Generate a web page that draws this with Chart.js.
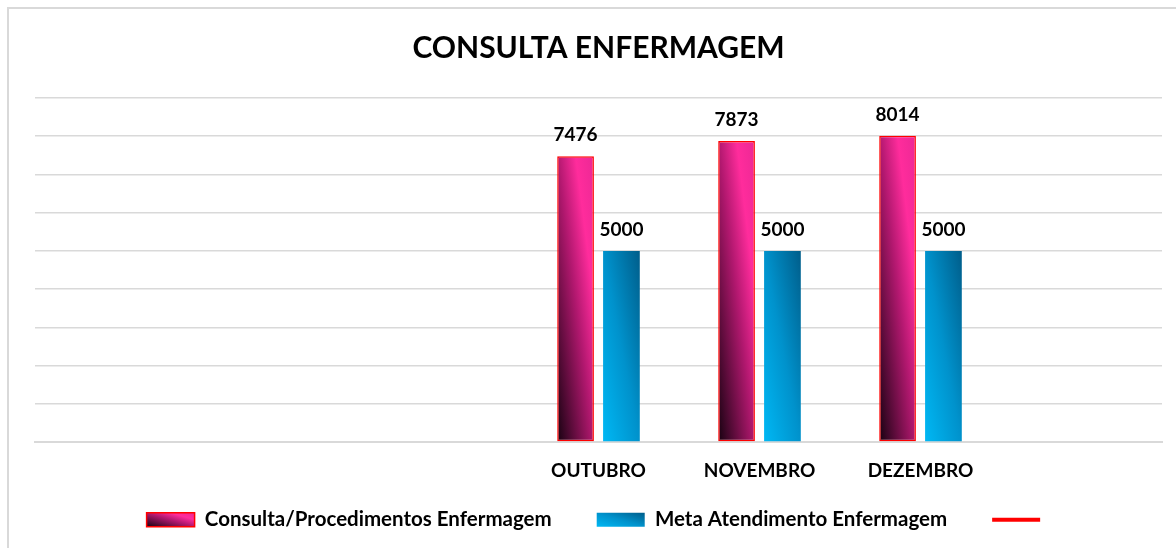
<!DOCTYPE html>
<html lang="pt">
<head>
<meta charset="UTF-8">
<title>Consulta Enfermagem</title>
<script src="https://cdn.jsdelivr.net/npm/chart.js"></script>
<style>
  html, body { margin: 0; padding: 0; background: #fff; overflow: hidden; }
  #frame { position: absolute; left: 7px; top: 7px; width: 1300px; height: 700px;
           border-left: 2px solid #d9d9d9; border-top: 2px solid #d9d9d9; }
  #box { position: absolute; left: 0; top: 0; width: 1176px; height: 548px; }
</style>
</head>
<body>
<div id="frame"></div>
<div id="box"><canvas id="myChart"></canvas></div>
<script>
// dados do grafico
const categories = ['', '', '', 'OUTUBRO', 'NOVEMBRO', 'DEZEMBRO', ''];
const consultas  = [null, null, null, 7476, 7873, 8014, null];
const meta       = [null, null, null, 5000, 5000, 5000, null];
const linhaMeta  = [null, null, null, null, null, null, null];
const yTicks     = [0, 1000, 2000, 3000, 4000, 5000, 6000, 7000, 8000, 9000];

const CAT_PCT = 0.57;
const BAR_PCT = 0.8;
const FONT = 'Lato';

const pinkStops = [[0, '#160210'], [0.5, '#b2186f'], [0.75, '#ff2c9c'], [1, '#ec2895']];
const blueStops = [[0, '#00b8f4'], [0.5, '#0092cc'], [1, '#005d8a']];

// gradiente diagonal (canto inf. esq. -> canto sup. dir.)
function diagGrad(ctx, left, top, right, bottom, stops) {
  const w = right - left, h = bottom - top;
  const k = 2 * w * h / (w * w + h * h);
  const g = ctx.createLinearGradient(left, bottom, left + h * k, bottom - w * k);
  stops.forEach(s => g.addColorStop(s[0], s[1]));
  return g;
}

function barFill(stops, side) {
  return (c) => {
    const chart = c.chart, v = c.raw;
    const xs = chart.scales.x, ys = chart.scales.y;
    if (c.type !== 'data' || v == null || !xs || !ys) return stops[1][1];
    const slot = (xs.right - xs.left) / categories.length * CAT_PCT / 2;
    const cx = xs.getPixelForValue(c.dataIndex) + side * slot / 2;
    const half = slot * BAR_PCT / 2;
    const top = ys.getPixelForValue(v), bottom = ys.getPixelForValue(0);
    if (![cx, half, top, bottom].every(isFinite) || bottom - top <= 0) return stops[1][1];
    return diagGrad(chart.ctx, cx - half, top, cx + half, bottom, stops);
  };
}

// valores em cima das barras
const valueLabels = {
  id: 'valueLabels',
  afterDatasetsDraw(chart) {
    const ctx = chart.ctx;
    ctx.save();
    ctx.font = 'bold 19px ' + FONT;
    ctx.fillStyle = '#000';
    ctx.textAlign = 'center';
    ctx.textBaseline = 'alphabetic';
    chart.data.datasets.forEach((ds, i) => {
      if (ds.type === 'line') return;
      chart.getDatasetMeta(i).data.forEach((bar, j) => {
        if (ds.data[j] == null) return;
        ctx.fillText(ds.data[j], bar.x, bar.y - 15);
      });
    });
    ctx.restore();
  }
};

// o eixo x foi encolhido pra legenda subir; devolve a area dos rotulos
const xLabelRoom = {
  id: 'xLabelRoom',
  afterLayout(chart) {
    const xs = chart.scales.x;
    xs.bottom = xs.top + 45;
  }
};

// gradiente nas caixinhas da legenda
const legendFill = {
  id: 'legendFill',
  beforeDraw(chart) {
    const lg = chart.legend;
    if (!lg || !lg.legendItems) return;
    const bw = lg.options.labels.pointStyleWidth, bh = lg.options.labels.boxHeight;
    lg.legendItems.forEach((item, i) => {
      const hb = lg.legendHitBoxes[i];
      if (!hb || item.datasetIndex > 1) return;
      const yc = hb.top + hb.height / 2;
      const stops = item.datasetIndex === 0 ? pinkStops : blueStops;
      item.fillStyle = diagGrad(chart.ctx, hb.left, yc - bh / 2, hb.left + bw, yc + bh / 2, stops);
    });
  }
};

const ctx = document.querySelector('#myChart');
const enfChart = new Chart(ctx, {
  type: 'bar',
  data: {
    labels: categories,
    datasets: [
      {
        label: 'Consulta/Procedimentos Enfermagem',
        data: consultas,
        backgroundColor: barFill(pinkStops, -1),
        borderColor: '#ff0000',
        borderWidth: 1.5,
        borderSkipped: false,
        pointStyle: 'rect',
        categoryPercentage: CAT_PCT,
        barPercentage: BAR_PCT
      },
      {
        label: 'Meta Atendimento Enfermagem',
        data: meta,
        backgroundColor: barFill(blueStops, 1),
        borderWidth: 0,
        pointStyle: 'rect',
        categoryPercentage: CAT_PCT,
        barPercentage: BAR_PCT
      },
      {
        type: 'line',
        label: '',
        data: linhaMeta,
        borderColor: '#ff0000',
        backgroundColor: '#ff0000',
        borderWidth: 4,
        borderCapStyle: 'round',
        pointStyle: 'line',
        pointRadius: 0
      }
    ]
  },
  options: {
    responsive: true,
    maintainAspectRatio: false,
    animation: false,
    events: [],
    layout: { padding: { left: 35, right: 14, top: 0, bottom: 8 } },
    plugins: {
      title: {
        display: true,
        text: 'CONSULTA ENFERMAGEM',
        color: '#000',
        font: { family: FONT, size: 30, weight: 'bold' },
        padding: { top: 30, bottom: 32 }
      },
      legend: {
        position: 'bottom',
        labels: {
          usePointStyle: true,
          pointStyleWidth: 48,
          boxHeight: 14,
          padding: 45,
          color: '#000',
          font: { family: FONT, size: 20.5, weight: 'bold' }
        }
      },
      tooltip: { enabled: false }
    },
    scales: {
      x: {
        grid: { display: false, drawTicks: false },
        border: { color: '#d9d9d9', width: 2 },
        ticks: { color: '#000', padding: 17, font: { family: FONT, size: 19, weight: 'bold' } },
        afterFit: (s) => { s.height = 22.5; }
      },
      y: {
        min: yTicks[0],
        max: yTicks[yTicks.length - 1],
        afterBuildTicks: (s) => { s.ticks = yTicks.map(v => ({ value: v })); },
        grid: { color: '#d9d9d9', lineWidth: 1.5, drawTicks: false },
        border: { display: false },
        ticks: { display: false }
      }
    }
  },
  plugins: [valueLabels, xLabelRoom, legendFill]
});
</script>
</body>
</html>
